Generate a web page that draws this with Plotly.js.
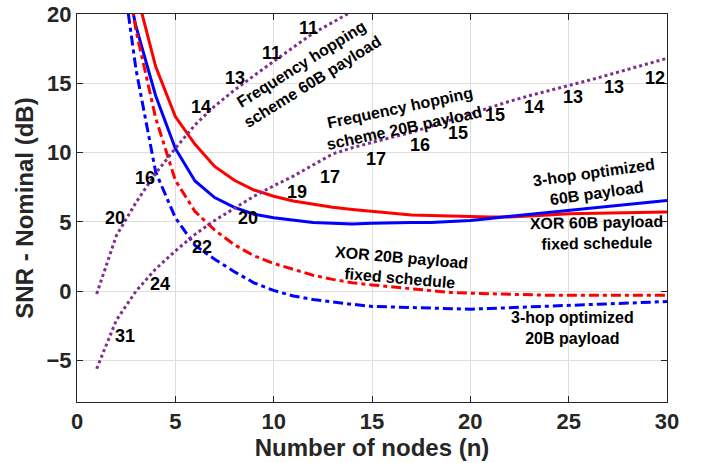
<!DOCTYPE html>
<html>
<head>
<meta charset="utf-8">
<script src="https://cdn.plot.ly/plotly-3.0.1.min.js"></script>
<style>html,body{margin:0;padding:0;background:#fff;}#chart{width:705px;height:463px;}</style>
</head>
<body>
<div id="chart"></div>
<script>
// Number of nodes
const nodesXor60 = [3,4,5,6,7,8,9,10,11,12,13,14,15,16,17,18,19,20,21,22,23,24,25,26,27,28,29,30];
const xor60 = [21.7,16.2,12.6,10.6,9.0,8.0,7.3,6.85,6.5,6.25,6.05,5.9,5.75,5.6,5.5,5.45,5.4,5.38,5.35,5.35,5.4,5.5,5.58,5.6,5.65,5.68,5.7,5.72];

const nodesHop60 = [2,3,4,5,6,7,8,9,10,11,12,13,14,15,16,17,18,19,20,21,22,23,24,25,26,27,28,29,30];
const hop60 = [25.8,19.1,14.1,10.3,7.95,6.75,6.05,5.55,5.3,5.15,4.95,4.9,4.85,4.9,4.95,4.95,4.95,5.0,5.1,5.25,5.4,5.55,5.7,5.85,6.0,6.1,6.25,6.4,6.55];

const nodesXor20 = [2,3,4,5,6,7,8,9,10,11,12,13,14,15,16,17,18,19,20,21,22,23,24,25,26,27,28,29,30];
const xor20 = [27.4,18.8,12.5,8.0,5.75,4.4,3.35,2.55,2.0,1.55,1.15,0.85,0.6,0.45,0.3,0.15,0.0,-0.1,-0.15,-0.2,-0.25,-0.3,-0.3,-0.3,-0.3,-0.3,-0.3,-0.3,-0.3];

const nodesHop20 = [2,3,4,5,6,7,8,9,10,11,12,13,14,15,16,17,18,19,20,21,22,23,24,25,26,27,28,29,30];
const hop20 = [26.3,16.0,8.6,5.3,3.3,2.3,1.4,0.6,0.05,-0.35,-0.6,-0.8,-0.95,-1.1,-1.15,-1.15,-1.2,-1.28,-1.3,-1.25,-1.2,-1.15,-1.1,-1.05,-1.0,-0.92,-0.85,-0.8,-0.75];

const nodesFh60 = [1,2,3,4,5,6,7,8,9,10,11,12,13,14];
const fh60 = [-0.2,4.0,6.4,8.5,10.3,12.0,13.35,14.5,15.55,16.6,17.6,18.6,19.4,20.2];

const nodesFh20 = [1,2,3,4,5,6,7,8,9,10,11,12,13,14,15,16,17,18,19,20,21,22,23,24,25,26,27,28,29,30];
const fh20 = [-5.6,-2.1,0.0,1.6,2.9,4.1,5.1,6.0,6.85,7.6,8.3,9.1,9.9,10.35,10.75,11.1,11.45,11.9,12.4,12.85,13.3,13.7,14.1,14.45,14.8,15.2,15.6,16.0,16.4,16.8];

// Number labels along the frequency hopping curves
const fh60LabelX = [1.95,3.47,6.32,8.05,9.91,11.78];
const fh60LabelY = [5.28,8.17,13.3,15.4,17.2,19.0];
const fh60Labels = ["20","16","14","13","11","11"];

const fh20LabelX = [2.46,4.23,6.35,8.72,11.18,12.88,15.2,17.45,19.35,21.27,23.25,25.2,27.3,29.4];
const fh20LabelY = [-3.22,0.5,3.17,5.26,7.14,8.22,9.52,10.55,11.43,12.71,13.3,14.03,14.75,15.36];
const fh20Labels = ["31","24","22","20","19","17","17","16","15","15","14","13","13","12"];

// Curve description labels
const curveLabelText = [
  "Frequency hopping<br>scheme 60B payload",
  "Frequency hopping<br>scheme 20B payload",
  "3-hop optimized<br>60B payload",
  "XOR 60B payload<br>fixed schedule",
  "XOR 20B payload<br>fixed schedule",
  "3-hop optimized<br>20B payload"
];
const curveLabelX = [11.69,16.54,26.35,26.43,16.44,25.17];
const curveLabelY = [15.72,12.5,7.79,4.18,1.66,-2.67];
const curveLabelAngle = [-32,-12,-8,-1,5,0];

const RED = '#ff0000', BLUE = '#0000ff', PURPLE = '#7e2f8e';
const DASHDOT = '10px,4px,4px,4px';

const traces = [
  {x: nodesXor60, y: xor60, mode: 'lines', line: {color: RED, width: 3}},
  {x: nodesHop60, y: hop60, mode: 'lines', line: {color: BLUE, width: 3}},
  {x: nodesXor20, y: xor20, mode: 'lines', line: {color: RED, width: 3, dash: DASHDOT}},
  {x: nodesHop20, y: hop20, mode: 'lines', line: {color: BLUE, width: 3, dash: DASHDOT}},
  {x: nodesFh60, y: fh60, mode: 'lines', line: {color: PURPLE, width: 3, dash: 'dot'}},
  {x: nodesFh20, y: fh20, mode: 'lines', line: {color: PURPLE, width: 3, dash: 'dot'}}
];

const FONT = 'Liberation Sans, Arial, Helvetica, sans-serif';
const annotations = [];
fh60Labels.forEach((t, i) => annotations.push({x: fh60LabelX[i], y: fh60LabelY[i], text: '<b>' + t + '</b>', showarrow: false, xref: 'x', yref: 'y', font: {family: FONT, size: 18, color: '#000'}}));
fh20Labels.forEach((t, i) => annotations.push({x: fh20LabelX[i], y: fh20LabelY[i], text: '<b>' + t + '</b>', showarrow: false, xref: 'x', yref: 'y', font: {family: FONT, size: 18, color: '#000'}}));
curveLabelText.forEach((t, i) => annotations.push({x: curveLabelX[i], y: curveLabelY[i], text: '<b>' + t.replace('<br>', '</b><br><b>') + '</b>', showarrow: false, xref: 'x', yref: 'y', textangle: curveLabelAngle[i], font: {family: FONT, size: 16, color: '#000'}}));

const axisCommon = {
  showline: true, linecolor: '#262626', linewidth: 1, mirror: 'ticks',
  ticks: 'inside', ticklen: 6, tickcolor: '#262626', tickwidth: 1,
  showgrid: true, gridcolor: '#dedede', gridwidth: 1, zeroline: false,
  tickfont: {family: FONT, size: 22, color: '#262626', weight: 'bold'}
};

const layout = {
  width: 705, height: 463,
  margin: {l: 77, r: 38, t: 14, b: 61},
  paper_bgcolor: '#fff', plot_bgcolor: '#fff',
  showlegend: false,
  xaxis: Object.assign({}, axisCommon, {
    range: [0, 30], tickvals: [0,5,10,15,20,25,30],
    title: {text: '<b>Number of nodes (n)</b>', font: {family: FONT, size: 24, color: '#262626'}, standoff: 2}
  }),
  yaxis: Object.assign({}, axisCommon, {
    range: [-8, 20], tickvals: [-5,0,5,10,15,20],
    title: {text: '<b>SNR - Nominal (dB)</b>', font: {family: FONT, size: 24, color: '#262626'}, standoff: 6}
  }),
  annotations: annotations
};

Plotly.newPlot('chart', traces, layout, {staticPlot: true, displayModeBar: false});
</script>
</body>
</html>
